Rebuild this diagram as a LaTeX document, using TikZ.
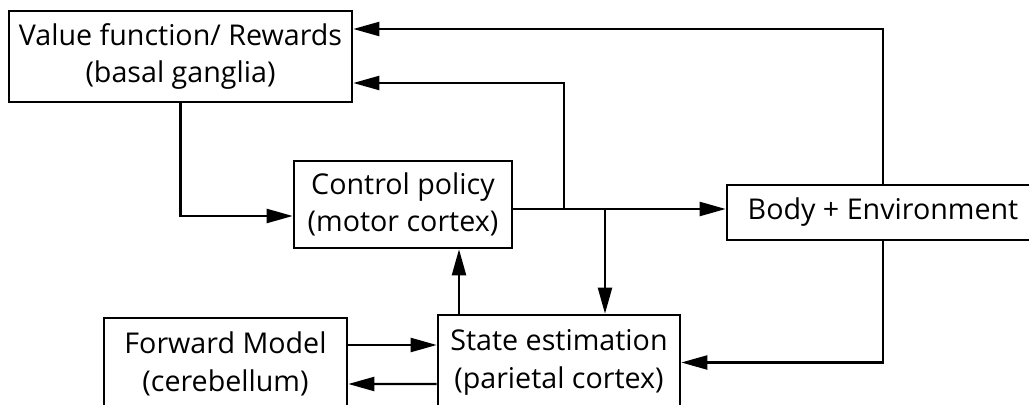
\documentclass[tikz,border=0pt]{standalone}
\usepackage{fontspec}
\setmainfont{Open Sans}
\usetikzlibrary{arrows.meta,calc}
\begin{document}
\begin{tikzpicture}[x=0.02cm, y=-0.02cm, font=\fontsize{16.3pt}{21.3pt}\selectfont,
    line join=miter, >={Triangle[length=0.52cm,width=0.28cm]},
    box/.style={draw, line width=1.5pt, align=center, inner sep=0pt},
    arr/.style={->, line width=1.3pt}]
    \useasboundingbox (0,0) rectangle (1029,405);
    \clip (0,0) rectangle (1029,405);
    % boxes
    \node[box, minimum width=343*0.02cm, minimum height=91*0.02cm] (value) at (180.5,56.5) {Value function/ Rewards\\(basal ganglia)};
    \node[box, minimum width=218*0.02cm, minimum height=87*0.02cm] (control) at (403,204.5) {Control policy\\(motor cortex)};
    \node[box, minimum width=312*0.02cm, minimum height=55*0.02cm] (body) at (883,212.5) {Body + Environment};
    \node[box, minimum width=242*0.02cm, minimum height=95*0.02cm] (state) at (559,362.5) {State estimation\\(parietal cortex)};
    \node[box, minimum width=243*0.02cm, minimum height=92*0.02cm] (forward) at (225.5,364) {Forward Model\\(cerebellum)};
    % branch points
    \coordinate (cpout) at ($(control.east)+(0,4.5)$);
    \coordinate (up) at (564,209);
    \coordinate (down) at (605,209);
    \coordinate (seout) at ($(state.north)+(-100,0)$);
    % connectors
    \draw[arr] (cpout) -- (cpout -| body.west);
    \draw[arr] (body.north) |- ($(value.east)+(0,-27.5)$);
    \draw[arr] (up) |- ($(value.east)+(0,26.5)$);
    \draw[arr] (down) -- (down |- state.north);
    \draw[arr] (value.south) |- ($(control.west)+(0,11.5)$);
    \draw[arr] (seout) -- (seout |- control.south);
    \draw[arr] (body.south) |- (state.east);
    \draw[arr] ($(forward.east)+(0,-19)$) -- ($(state.west)+(0,-17.5)$);
    \draw[arr] ($(state.west)+(0,21.5)$) -- ($(forward.east)+(0,20)$);
\end{tikzpicture}
\end{document}
